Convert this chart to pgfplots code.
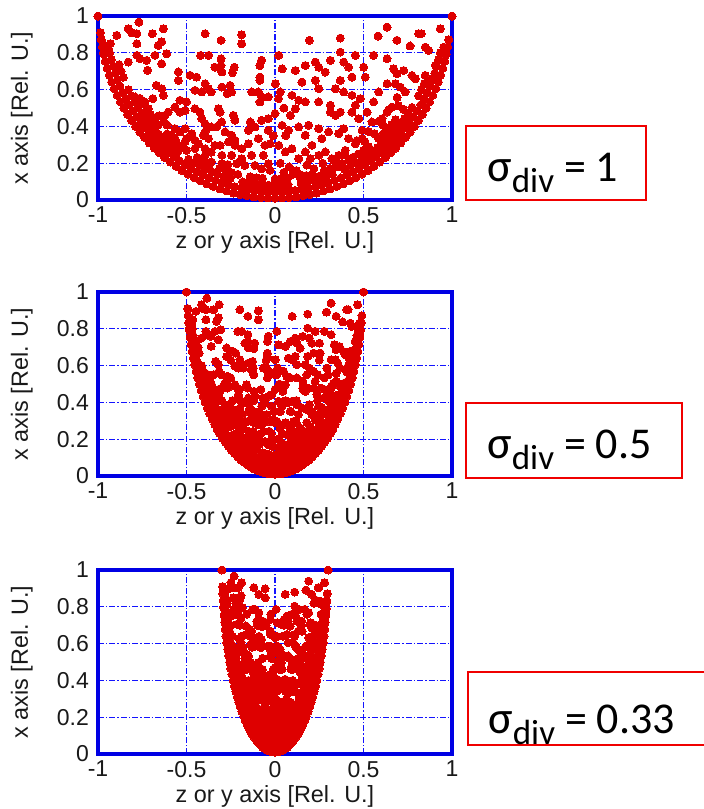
\documentclass[border=0pt]{standalone}
\usepackage{fontspec}
\setmainfont{Liberation Sans}
\newfontfamily\calib{Carlito}
\usepackage{pgfplots}
\usepackage{pgfplotstable}
\pgfplotsset{compat=1.18}
\definecolor{ptred}{RGB}{222,0,0}
\definecolor{axblue}{RGB}{0,0,228}
\definecolor{gridblue}{RGB}{20,20,255}
\definecolor{boxred}{RGB}{240,0,0}
\pgfplotstableread{
z1 z2 z3 h
-1 -0.5 -0.3 1
1 0.5 0.3 1
0 0 0 0.010
0.040 0.020 0.012 0.011
-0.040 -0.020 -0.012 0.011
0.079 0.040 0.024 0.013
-0.079 -0.040 -0.024 0.013
0.119 0.060 0.036 0.017
-0.119 -0.060 -0.036 0.017
0.158 0.079 0.047 0.023
-0.158 -0.079 -0.047 0.023
0.197 0.099 0.059 0.030
-0.197 -0.099 -0.059 0.030
0.235 0.118 0.071 0.038
-0.235 -0.118 -0.071 0.038
0.274 0.137 0.082 0.049
-0.274 -0.137 -0.082 0.049
0.311 0.156 0.093 0.060
-0.311 -0.156 -0.093 0.060
0.349 0.175 0.105 0.074
-0.349 -0.175 -0.105 0.074
0.386 0.193 0.116 0.088
-0.386 -0.193 -0.116 0.088
0.422 0.211 0.127 0.104
-0.422 -0.211 -0.127 0.104
0.457 0.229 0.137 0.122
-0.457 -0.229 -0.137 0.122
0.492 0.246 0.148 0.141
-0.492 -0.246 -0.148 0.141
0.526 0.263 0.158 0.161
-0.526 -0.263 -0.158 0.161
0.559 0.280 0.168 0.183
-0.559 -0.280 -0.168 0.183
0.591 0.296 0.177 0.206
-0.591 -0.296 -0.177 0.206
0.623 0.312 0.187 0.230
-0.623 -0.312 -0.187 0.230
0.653 0.327 0.196 0.256
-0.653 -0.327 -0.196 0.256
0.682 0.341 0.205 0.282
-0.682 -0.341 -0.205 0.282
0.710 0.355 0.213 0.310
-0.710 -0.355 -0.213 0.310
0.737 0.369 0.221 0.339
-0.737 -0.369 -0.221 0.339
0.763 0.382 0.229 0.369
-0.763 -0.382 -0.229 0.369
0.788 0.394 0.236 0.400
-0.788 -0.394 -0.236 0.400
0.811 0.406 0.243 0.432
-0.811 -0.406 -0.243 0.432
0.833 0.417 0.250 0.465
-0.833 -0.417 -0.250 0.465
0.854 0.427 0.256 0.499
-0.854 -0.427 -0.256 0.499
0.873 0.437 0.262 0.533
-0.873 -0.437 -0.262 0.533
0.891 0.446 0.267 0.569
-0.891 -0.446 -0.267 0.569
0.908 0.454 0.272 0.605
-0.908 -0.454 -0.272 0.605
0.923 0.462 0.277 0.641
-0.923 -0.462 -0.277 0.641
0.936 0.468 0.281 0.678
-0.936 -0.468 -0.281 0.678
0.948 0.474 0.284 0.716
-0.948 -0.474 -0.284 0.716
0.959 0.480 0.288 0.754
-0.959 -0.480 -0.288 0.754
0.968 0.484 0.290 0.793
-0.968 -0.484 -0.290 0.793
0.976 0.488 0.293 0.832
-0.976 -0.488 -0.293 0.832
0.982 0.491 0.295 0.871
-0.982 -0.491 -0.295 0.871
-0.986 -0.493 -0.296 0.910
0 0 0 0.045
0.038 0.019 0.011 0.046
-0.038 -0.019 -0.011 0.046
0.076 0.038 0.023 0.048
-0.076 -0.038 -0.023 0.048
0.114 0.057 0.034 0.052
-0.114 -0.057 -0.034 0.052
0.152 0.076 0.046 0.057
-0.152 -0.076 -0.046 0.057
0.190 0.095 0.057 0.064
-0.190 -0.095 -0.057 0.064
0.227 0.114 0.068 0.072
-0.227 -0.114 -0.068 0.072
0.264 0.132 0.079 0.082
-0.264 -0.132 -0.079 0.082
0.300 0.150 0.090 0.094
-0.300 -0.150 -0.090 0.094
0.336 0.168 0.101 0.106
-0.336 -0.168 -0.101 0.106
0.372 0.186 0.112 0.120
-0.372 -0.186 -0.112 0.120
0.407 0.204 0.122 0.136
-0.407 -0.204 -0.122 0.136
0.441 0.221 0.132 0.153
-0.441 -0.221 -0.132 0.153
0.475 0.238 0.143 0.171
-0.475 -0.238 -0.143 0.171
0.507 0.254 0.152 0.191
-0.507 -0.254 -0.152 0.191
0.539 0.270 0.162 0.212
-0.539 -0.270 -0.162 0.212
0.570 0.285 0.171 0.234
-0.570 -0.285 -0.171 0.234
0.601 0.301 0.180 0.257
-0.601 -0.301 -0.180 0.257
0.630 0.315 0.189 0.282
-0.630 -0.315 -0.189 0.282
0.658 0.329 0.197 0.308
-0.658 -0.329 -0.197 0.308
0.685 0.343 0.206 0.335
-0.685 -0.343 -0.206 0.335
0.711 0.356 0.213 0.363
-0.711 -0.356 -0.213 0.363
0.736 0.368 0.221 0.392
-0.736 -0.368 -0.221 0.392
0.760 0.380 0.228 0.422
-0.760 -0.380 -0.228 0.422
0.782 0.391 0.235 0.452
-0.782 -0.391 -0.235 0.452
0.804 0.402 0.241 0.484
-0.804 -0.402 -0.241 0.484
0.824 0.412 0.247 0.517
-0.824 -0.412 -0.247 0.517
0.842 0.421 0.253 0.550
-0.842 -0.421 -0.253 0.550
0.860 0.430 0.258 0.584
-0.860 -0.430 -0.258 0.584
0.876 0.438 0.263 0.619
-0.876 -0.438 -0.263 0.619
0.890 0.445 0.267 0.654
-0.890 -0.445 -0.267 0.654
0.903 0.452 0.271 0.690
-0.903 -0.452 -0.271 0.690
0.915 0.458 0.275 0.726
-0.915 -0.458 -0.275 0.726
0.925 0.463 0.278 0.763
-0.925 -0.463 -0.278 0.763
0.934 0.467 0.280 0.800
-0.934 -0.467 -0.280 0.800
-0.941 -0.471 -0.282 0.838
0 0 0 0.080
0.037 0.019 0.011 0.081
-0.037 -0.019 -0.011 0.081
0.074 0.037 0.022 0.083
-0.074 -0.037 -0.022 0.083
-0.110 -0.055 -0.033 0.087
0.147 0.074 0.044 0.092
-0.147 -0.074 -0.044 0.092
0.183 0.092 0.055 0.098
-0.183 -0.092 -0.055 0.098
0.219 0.110 0.066 0.106
0.254 0.127 0.076 0.116
-0.254 -0.127 -0.076 0.116
0.289 0.145 0.087 0.127
-0.289 -0.145 -0.087 0.127
0.324 0.162 0.097 0.139
-0.324 -0.162 -0.097 0.139
-0.358 -0.179 -0.107 0.153
0.392 0.196 0.118 0.168
-0.392 -0.196 -0.118 0.168
0.425 0.213 0.128 0.184
-0.425 -0.213 -0.128 0.184
0.457 0.229 0.137 0.202
-0.457 -0.229 -0.137 0.202
0.489 0.245 0.147 0.221
-0.489 -0.245 -0.147 0.221
0.519 0.260 0.156 0.241
0.549 0.275 0.165 0.262
-0.549 -0.275 -0.165 0.262
0.579 0.290 0.174 0.285
-0.579 -0.290 -0.174 0.285
0.607 0.304 0.182 0.308
-0.607 -0.304 -0.182 0.308
0.634 0.317 0.190 0.333
-0.634 -0.317 -0.190 0.333
0.660 0.330 0.198 0.359
-0.660 -0.330 -0.198 0.359
0.685 0.343 0.206 0.386
-0.685 -0.343 -0.206 0.386
0.709 0.355 0.213 0.414
-0.709 -0.355 -0.213 0.414
0.732 0.366 0.220 0.443
-0.732 -0.366 -0.220 0.443
0.754 0.377 0.226 0.472
-0.754 -0.377 -0.226 0.472
0.774 0.387 0.232 0.503
-0.774 -0.387 -0.232 0.503
-0.793 -0.397 -0.238 0.534
0.811 0.406 0.243 0.566
-0.811 -0.406 -0.243 0.566
0.828 0.414 0.248 0.599
-0.828 -0.414 -0.248 0.599
0.844 0.422 0.253 0.633
-0.857 -0.429 -0.257 0.667
-0.870 -0.435 -0.261 0.701
-0.881 -0.441 -0.264 0.736
0 0 0 0.115
0.035 0.018 0.011 0.116
0.071 0.036 0.021 0.118
-0.071 -0.036 -0.021 0.118
-0.106 -0.053 -0.032 0.121
0.141 0.071 0.042 0.126
-0.141 -0.071 -0.042 0.126
0.176 0.088 0.053 0.133
0.210 0.105 0.063 0.140
-0.210 -0.105 -0.063 0.140
-0.245 -0.123 -0.074 0.149
0.278 0.139 0.083 0.160
-0.278 -0.139 -0.083 0.160
0.312 0.156 0.094 0.172
-0.312 -0.156 -0.094 0.172
0.345 0.173 0.104 0.185
0.377 0.189 0.113 0.199
-0.377 -0.189 -0.113 0.199
-0.409 -0.205 -0.123 0.215
0.440 0.220 0.132 0.232
-0.440 -0.220 -0.132 0.232
0.470 0.235 0.141 0.250
0.500 0.250 0.150 0.270
-0.500 -0.250 -0.150 0.270
0.529 0.265 0.159 0.290
-0.529 -0.265 -0.159 0.290
-0.557 -0.279 -0.167 0.312
0.584 0.292 0.175 0.335
-0.584 -0.292 -0.175 0.335
0.610 0.305 0.183 0.359
-0.610 -0.305 -0.183 0.359
0.635 0.318 0.191 0.383
0.659 0.330 0.198 0.409
-0.659 -0.330 -0.198 0.409
0.682 0.341 0.205 0.436
-0.682 -0.341 -0.205 0.436
-0.704 -0.352 -0.211 0.464
0.725 0.363 0.218 0.493
-0.725 -0.363 -0.218 0.493
-0.745 -0.373 -0.224 0.522
-0.763 -0.382 -0.229 0.552
-0.267 -0.134 -0.080 0.193
0.331 0.166 0.099 0.217
0.393 0.197 0.118 0.246
-0.393 -0.197 -0.118 0.246
-0.452 -0.226 -0.136 0.280
0.508 0.254 0.152 0.318
-0.508 -0.254 -0.152 0.318
0.561 0.281 0.168 0.361
0.610 0.305 0.183 0.408
-0.610 -0.305 -0.183 0.408
-0.655 -0.328 -0.197 0.458
0.696 0.348 0.209 0.513
0.463 0.232 0.139 0.323
0.528 0.264 0.158 0.373
0.588 0.294 0.176 0.429
0.642 0.321 0.193 0.490
0.690 0.345 0.207 0.557
-0.960 -0.480 -0.288 0.840
-0.940 -0.470 -0.282 0.820
-0.970 -0.485 -0.291 0.800
-0.930 -0.465 -0.279 0.850
-0.894 -0.447 -0.268 0.895
-0.829 -0.415 -0.249 0.931
-0.810 -0.405 -0.243 0.909
-0.780 -0.390 -0.234 0.904
-0.769 -0.385 -0.231 0.967
-0.780 -0.390 -0.234 0.849
-0.693 -0.347 -0.208 0.904
-0.631 -0.316 -0.189 0.931
-0.640 -0.320 -0.192 0.860
-0.660 -0.330 -0.198 0.840
-0.612 -0.306 -0.184 0.795
-0.829 -0.415 -0.249 0.750
-0.780 -0.390 -0.234 0.786
-0.763 -0.382 -0.229 0.768
-0.725 -0.363 -0.218 0.759
-0.678 -0.339 -0.203 0.786
-0.720 -0.360 -0.216 0.705
-0.640 -0.320 -0.192 0.740
-0.546 -0.273 -0.164 0.696
-0.546 -0.273 -0.164 0.650
-0.395 -0.198 -0.119 0.904
-0.305 -0.153 -0.092 0.868
-0.188 -0.094 -0.056 0.898
-0.188 -0.094 -0.056 0.849
-0.420 -0.210 -0.126 0.786
-0.375 -0.188 -0.113 0.786
-0.305 -0.153 -0.092 0.768
-0.305 -0.153 -0.092 0.731
-0.230 -0.115 -0.069 0.722
-0.300 -0.150 -0.090 0.696
-0.240 -0.120 -0.072 0.692
-0.340 -0.170 -0.102 0.722
-0.085 -0.043 -0.026 0.731
-0.085 -0.043 -0.026 0.668
-0.085 -0.043 -0.026 0.650
-0.076 -0.038 -0.023 0.760
-0.480 -0.240 -0.144 0.678
-0.443 -0.222 -0.133 0.668
-0.395 -0.198 -0.119 0.632
-0.376 -0.188 -0.113 0.605
-0.452 -0.226 -0.136 0.596
-0.414 -0.207 -0.124 0.587
-0.360 -0.180 -0.108 0.587
-0.254 -0.127 -0.076 0.623
-0.245 -0.123 -0.074 0.587
-0.300 -0.150 -0.090 0.614
-0.270 -0.135 -0.081 0.578
-0.132 -0.066 -0.040 0.587
-0.094 -0.047 -0.028 0.587
-0.075 -0.038 -0.023 0.560
-0.038 -0.019 -0.011 0.560
-0.085 -0.043 -0.026 0.533
-0.537 -0.269 -0.161 0.542
-0.500 -0.250 -0.150 0.533
-0.508 -0.254 -0.152 0.487
-0.537 -0.269 -0.161 0.478
-0.565 -0.283 -0.170 0.505
-0.452 -0.226 -0.136 0.496
-0.424 -0.212 -0.127 0.478
-0.414 -0.207 -0.124 0.442
-0.395 -0.198 -0.119 0.415
-0.376 -0.188 -0.113 0.397
-0.395 -0.198 -0.119 0.370
-0.320 -0.160 -0.096 0.496
-0.310 -0.155 -0.093 0.478
-0.235 -0.118 -0.071 0.460
-0.226 -0.113 -0.068 0.433
-0.301 -0.151 -0.090 0.424
-0.360 -0.180 -0.108 0.397
-0.330 -0.165 -0.099 0.397
-0.282 -0.141 -0.085 0.370
-0.245 -0.123 -0.074 0.352
-0.263 -0.132 -0.079 0.316
-0.226 -0.113 -0.068 0.325
-0.140 -0.070 -0.042 0.424
-0.113 -0.057 -0.034 0.397
-0.150 -0.075 -0.045 0.379
-0.076 -0.038 -0.023 0.433
-0.038 -0.019 -0.011 0.442
-0.038 -0.019 -0.011 0.379
-0.150 -0.075 -0.045 0.306
-0.094 -0.047 -0.028 0.334
-0.057 -0.029 -0.017 0.297
-0.028 -0.014 -0.008 0.306
-0.066 -0.033 -0.020 0.243
-0.132 -0.066 -0.040 0.243
-0.113 -0.057 -0.034 0.188
-0.076 -0.038 -0.023 0.170
-0.038 -0.019 -0.011 0.197
-0.028 -0.014 -0.008 0.161
-0.640 -0.320 -0.192 0.605
-0.670 -0.335 -0.201 0.623
-0.631 -0.316 -0.189 0.569
-0.690 -0.345 -0.207 0.551
-0.735 -0.368 -0.221 0.533
-0.716 -0.358 -0.215 0.496
-0.790 -0.395 -0.237 0.560
-0.603 -0.302 -0.181 0.478
-0.622 -0.311 -0.187 0.460
-0.670 -0.335 -0.201 0.451
-0.630 -0.315 -0.189 0.424
-0.565 -0.283 -0.170 0.388
-0.537 -0.269 -0.161 0.370
-0.584 -0.292 -0.175 0.352
-0.565 -0.283 -0.170 0.334
-0.508 -0.254 -0.152 0.388
-0.470 -0.235 -0.141 0.361
-0.500 -0.250 -0.150 0.334
-0.405 -0.203 -0.122 0.352
-0.376 -0.188 -0.113 0.334
-0.433 -0.217 -0.130 0.306
-0.452 -0.226 -0.136 0.325
-0.395 -0.198 -0.119 0.279
-0.340 -0.170 -0.102 0.297
-0.310 -0.155 -0.093 0.297
-0.360 -0.180 -0.108 0.260
-0.300 -0.150 -0.090 0.243
-0.226 -0.113 -0.068 0.297
-0.188 -0.094 -0.056 0.279
-0.245 -0.123 -0.074 0.243
-0.188 -0.094 -0.056 0.225
-0.216 -0.108 -0.065 0.198
-0.170 -0.085 -0.051 0.188
-0.300 -0.150 -0.090 0.198
-0.360 -0.180 -0.108 0.207
-0.270 -0.135 -0.081 0.170
-0.330 -0.165 -0.099 0.152
-0.370 -0.185 -0.111 0.170
0.633 0.317 0.190 0.940
0.582 0.291 0.175 0.891
0.689 0.345 0.207 0.868
0.812 0.406 0.244 0.904
0.826 0.413 0.248 0.904
0.763 0.382 0.229 0.837
0.934 0.467 0.280 0.931
0.849 0.425 0.255 0.831
0.868 0.434 0.260 0.813
0.953 0.477 0.286 0.831
0.962 0.481 0.289 0.786
0.906 0.453 0.272 0.732
0.897 0.449 0.269 0.659
0.194 0.097 0.058 0.868
0.369 0.185 0.111 0.880
0.369 0.185 0.111 0.804
0.454 0.227 0.136 0.786
0.557 0.279 0.167 0.786
0.633 0.317 0.190 0.768
0.670 0.335 0.201 0.713
0.689 0.345 0.207 0.686
0.727 0.364 0.218 0.704
0.774 0.387 0.232 0.677
0.793 0.397 0.238 0.659
0.849 0.425 0.255 0.677
0.868 0.434 0.260 0.640
0.021 0.011 0.006 0.786
0.040 0.020 0.012 0.713
0.115 0.058 0.035 0.704
0.171 0.086 0.051 0.731
0.228 0.114 0.068 0.750
0.247 0.124 0.074 0.722
0.284 0.142 0.085 0.695
0.313 0.157 0.094 0.759
0.388 0.194 0.116 0.750
0.416 0.208 0.125 0.722
0.435 0.218 0.131 0.668
0.501 0.251 0.150 0.722
0.510 0.255 0.153 0.668
0.002 0.001 0.001 0.632
0.030 0.015 0.009 0.587
0.020 0.010 0.006 0.551
0.152 0.076 0.046 0.641
0.228 0.114 0.068 0.650
0.247 0.124 0.074 0.605
0.341 0.171 0.102 0.605
0.369 0.185 0.111 0.650
0.388 0.194 0.116 0.587
0.435 0.218 0.131 0.569
0.482 0.241 0.145 0.551
0.454 0.227 0.136 0.515
0.557 0.279 0.167 0.533
0.586 0.293 0.176 0.587
0.633 0.317 0.190 0.632
0.680 0.340 0.204 0.632
0.708 0.354 0.212 0.614
0.736 0.368 0.221 0.587
0.096 0.048 0.029 0.569
0.134 0.067 0.040 0.542
0.171 0.086 0.051 0.533
0.115 0.058 0.035 0.496
0.087 0.044 0.026 0.460
0.247 0.124 0.074 0.533
0.313 0.157 0.094 0.478
0.341 0.171 0.102 0.460
0.369 0.185 0.111 0.478
0.313 0.157 0.094 0.515
0.435 0.218 0.131 0.478
0.473 0.237 0.142 0.442
0.520 0.260 0.156 0.478
0.548 0.274 0.164 0.424
0.605 0.303 0.182 0.442
0.633 0.317 0.190 0.478
0.661 0.331 0.198 0.505
0.040 0.020 0.012 0.406
0.077 0.039 0.023 0.379
0.134 0.067 0.040 0.397
0.190 0.095 0.057 0.406
0.171 0.086 0.051 0.352
0.247 0.124 0.074 0.388
0.265 0.133 0.080 0.334
0.303 0.152 0.091 0.370
0.360 0.180 0.108 0.361
0.388 0.194 0.116 0.388
0.416 0.208 0.125 0.334
0.454 0.227 0.136 0.306
0.492 0.246 0.148 0.334
0.492 0.246 0.148 0.379
0.021 0.011 0.006 0.297
0.058 0.029 0.017 0.261
0.096 0.048 0.029 0.279
0.134 0.067 0.040 0.225
0.171 0.086 0.051 0.261
0.209 0.105 0.063 0.297
0.247 0.124 0.074 0.243
0.284 0.142 0.085 0.261
0.322 0.161 0.097 0.225
0.360 0.180 0.108 0.243
0.397 0.199 0.119 0.270
0.416 0.208 0.125 0.216
0.030 0.015 0.009 0.200
0.080 0.040 0.024 0.180
0.120 0.060 0.036 0.160
0.180 0.090 0.054 0.190
0.220 0.110 0.066 0.170
0.270 0.135 0.081 0.200
0.050 0.025 0.015 0.150
0.150 0.075 0.045 0.135
0.300 0.150 0.090 0.150
0.250 0.125 0.075 0.130
0.100 0.050 0.030 0.140
0.350 0.175 0.105 0.180
0.200 0.100 0.060 0.225
0.050 0.025 0.015 0.500
0.000 0.000 0.000 0.470
0.060 0.030 0.018 0.350
-0.010 -0.005 -0.003 0.350
}\pts

% additional points seen in the sigma = 0.5 panel
\pgfplotstableread{
z h
-0.15 0.17
-0.09 0.17
-0.03 0.17
0.03 0.17
0.09 0.17
0.15 0.17
-0.20 0.23
-0.14 0.23
-0.08 0.23
-0.02 0.23
0.04 0.23
0.10 0.23
0.16 0.23
0.22 0.23
-0.24 0.29
-0.18 0.29
-0.12 0.29
-0.06 0.29
0.00 0.29
0.06 0.29
0.12 0.29
0.18 0.29
0.25 0.29
-0.27 0.35
-0.15 0.35
-0.09 0.35
0.03 0.35
0.09 0.35
0.21 0.35
0.27 0.35
-0.30 0.41
-0.24 0.41
-0.12 0.41
-0.06 0.41
0.06 0.41
0.12 0.41
0.24 0.41
0.30 0.41
-0.32 0.47
-0.20 0.47
-0.08 0.47
0.04 0.47
0.16 0.47
0.28 0.47
-0.30 0.55
-0.12 0.55
0.00 0.55
0.18 0.55
0.30 0.55
-0.25 0.63
-0.05 0.63
0.10 0.63
0.25 0.63
}\ptsB

% additional points seen in the sigma = 0.33 panel
\pgfplotstableread{
z h
-0.10 0.16
-0.05 0.16
0.00 0.16
0.05 0.16
0.10 0.16
-0.13 0.22
-0.08 0.22
-0.03 0.22
0.02 0.22
0.07 0.22
0.12 0.22
-0.16 0.28
-0.11 0.28
-0.06 0.28
-0.01 0.28
0.04 0.28
0.09 0.28
0.14 0.28
0.18 0.28
-0.19 0.34
-0.14 0.34
-0.09 0.34
-0.04 0.34
0.01 0.34
0.06 0.34
0.11 0.34
0.16 0.34
0.20 0.34
-0.20 0.40
-0.15 0.40
-0.05 0.40
0.00 0.40
0.05 0.40
0.10 0.40
0.15 0.40
0.21 0.40
-0.21 0.46
-0.16 0.46
-0.11 0.46
-0.01 0.46
0.04 0.46
0.09 0.46
0.14 0.46
0.19 0.46
0.23 0.46
-0.22 0.52
-0.17 0.52
-0.07 0.52
-0.02 0.52
0.03 0.52
0.08 0.52
0.13 0.52
0.18 0.52
0.23 0.52
-0.23 0.58
-0.18 0.58
-0.13 0.58
-0.03 0.58
0.02 0.58
0.12 0.58
0.17 0.58
0.22 0.58
-0.24 0.64
-0.19 0.64
-0.14 0.64
-0.09 0.64
0.01 0.64
0.06 0.64
0.11 0.64
0.21 0.64
0.25 0.64
-0.25 0.70
-0.20 0.70
-0.10 0.70
-0.05 0.70
0.05 0.70
0.15 0.70
0.20 0.70
0.25 0.70
-0.26 0.76
-0.21 0.76
-0.16 0.76
0.10 0.76
0.18 0.76
0.26 0.76
-0.27 0.82
-0.22 0.82
0.22 0.82
0.27 0.82
}\ptsC

\pgfplotsset{
  panel/.style={
    scale only axis, width=177pt, height=92pt,
    anchor=south west,
    font=\fontsize{11.5}{13}\selectfont,
    xmin=-1, xmax=1, ymin=0, ymax=1,
    xtick={-1,-0.5,0,0.5,1}, xticklabels={-1,-0.5,0,0.5,1},
    ytick={0,0.2,0.4,0.6,0.8,1}, yticklabels={0,0.2,0.4,0.6,0.8,1},
    major tick length=0pt,
    xtick style={draw=none}, ytick style={draw=none},
    xmajorgrids=true, ymajorgrids=true,
    every axis grid/.style={draw=gridblue, line width=0.6pt, dash pattern=on 3pt off 1pt on 0.7pt off 1pt},
    every major grid/.style={draw=gridblue, line width=0.6pt, dash pattern=on 3pt off 1pt on 0.7pt off 1pt},
    x grid style={draw=gridblue},
    y grid style={draw=gridblue},
    axis line style={draw=axblue, line width=1.7pt},
    every tick label/.append style={font=\fontsize{11.5}{13}\selectfont, text=black!90},
    yticklabel shift=1pt,
    every axis label/.append style={font=\fontsize{11.7}{13}\selectfont, text=black!90},
    xlabel={z or y axis [Rel. U.]}, ylabel={x axis [Rel. U.]},
    every axis x label/.style={at={(axis description cs:0.5,0)}, anchor=north, yshift=-15.5pt, inner sep=0pt, font=\fontsize{11.7}{13}\selectfont},
    every axis y label/.style={at={(axis description cs:-0.215,0.5)}, anchor=center, rotate=90, inner sep=0pt, font=\fontsize{11.7}{13}\selectfont},
  },
  dots/.style={only marks, color=ptred, mark=*, mark size=2pt, mark options={fill=ptred, draw=ptred, line width=0pt}},
}

\begin{document}
\begin{tikzpicture}[font=\fontsize{11.5}{13}\selectfont]
\useasboundingbox (0pt,0pt) rectangle (351.5pt,-404.5pt);
\begin{axis}[panel, at={(49pt,-100pt)}]
\addplot[dots] table[x=z1,y=h]{\pts};
\end{axis}
\begin{axis}[panel, at={(49pt,-238pt)}]
\addplot[dots] table[x=z2,y=h]{\pts};
\addplot[dots] table[x=z,y=h]{\ptsB};
\end{axis}
\begin{axis}[panel, at={(49pt,-377pt)}]
\addplot[dots] table[x=z3,y=h]{\pts};
\addplot[dots] table[x=z,y=h]{\ptsC};
\end{axis}
\draw[boxred, line width=0.8pt] (233pt,-63pt) rectangle (323pt,-100pt);
\node[anchor=base west, inner sep=0pt] at (243.5pt,-90.85pt) {\calib\fontsize{22}{26}\selectfont {\fontsize{23}{26}\selectfont σ}\raisebox{-5.5pt}{\fontsize{17.5}{20}\selectfont div} = 1};
\draw[boxred, line width=0.8pt] (233pt,-201.5pt) rectangle (341pt,-239pt);
\node[anchor=base west, inner sep=0pt] at (243.5pt,-229pt) {\calib\fontsize{22}{26}\selectfont {\fontsize{23}{26}\selectfont σ}\raisebox{-5.5pt}{\fontsize{17.5}{20}\selectfont div} = 0.5};
\draw[boxred, line width=0.8pt] (234pt,-336pt) rectangle (356pt,-372.5pt);
\node[anchor=base west, inner sep=0pt] at (244pt,-366.5pt) {\calib\fontsize{22}{26}\selectfont {\fontsize{23}{26}\selectfont σ}\raisebox{-5.5pt}{\fontsize{17.5}{20}\selectfont div} = 0.33};
\end{tikzpicture}
\end{document}
